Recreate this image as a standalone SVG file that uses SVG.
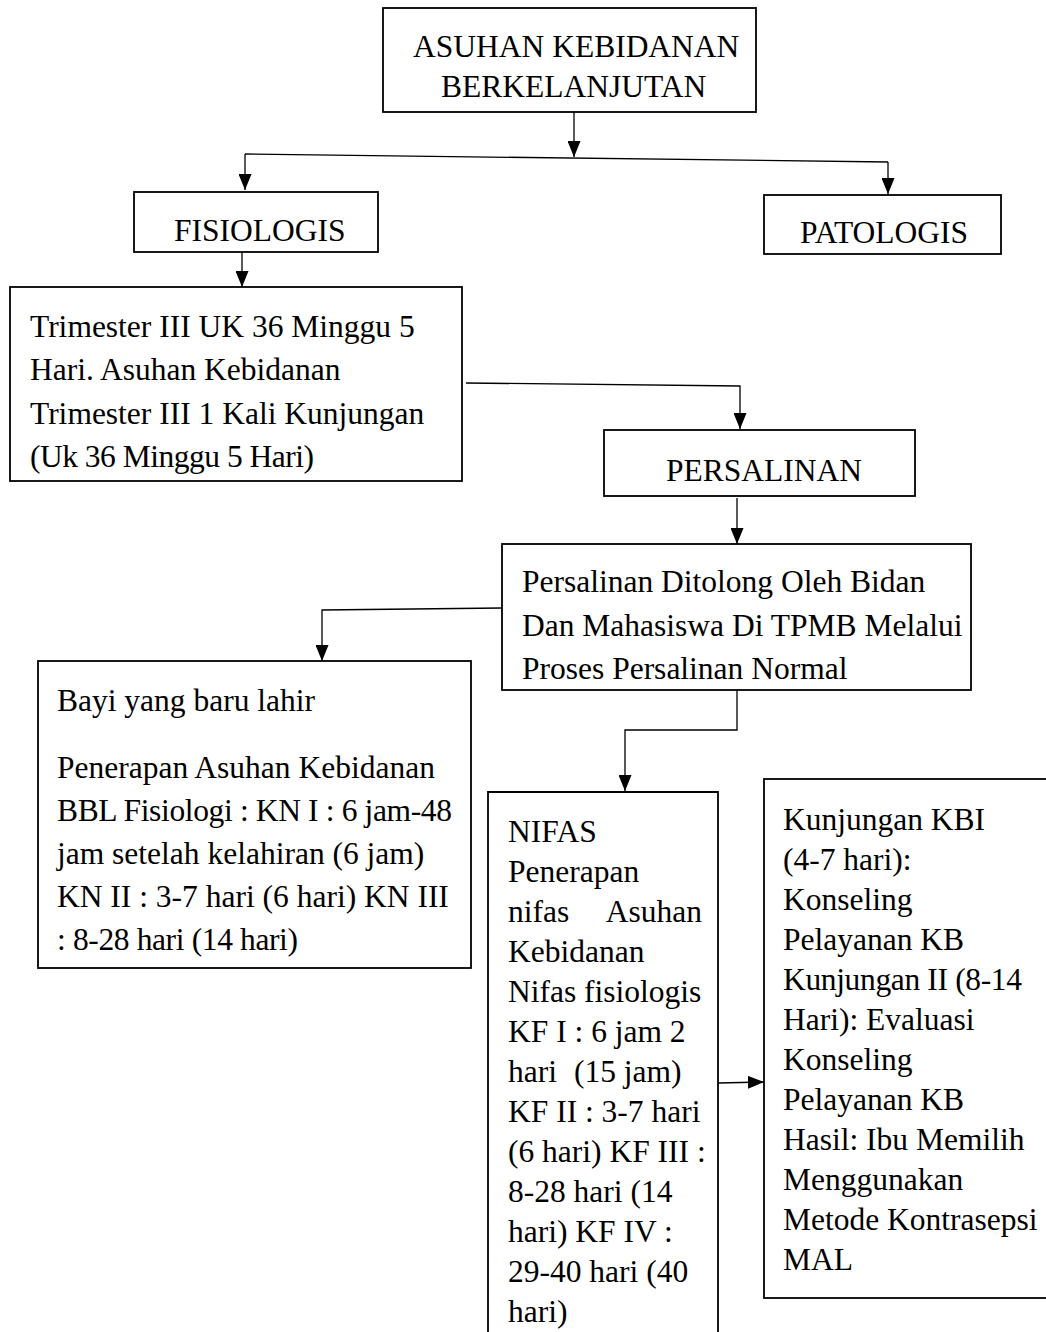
<svg xmlns="http://www.w3.org/2000/svg" width="1046" height="1332" viewBox="0 0 1046 1332">
<defs>
<style>
.box{fill:#fff;stroke:#000;stroke-width:1.8}
.t{font-family:"Liberation Serif","Times New Roman",serif;font-size:31.5px;fill:#000}
.c{fill:none;stroke:#000;stroke-width:1.3}
</style>
<marker id="ah" markerUnits="userSpaceOnUse" markerWidth="16" markerHeight="13" viewBox="0 0 16 13" refX="16" refY="6.5" orient="auto">
<path d="M0,0 L16,6.5 L0,13 z" fill="#000"/>
</marker>
</defs>
<rect width="1046" height="1332" fill="#fff"/>
<g id="n-asuhan">
<rect class="box" x="383" y="8" width="373" height="104"/>
<text class="t" x="413" y="57">ASUHAN KEBIDANAN</text>
<text class="t" x="441" y="97">BERKELANJUTAN</text>
</g>
<g id="n-fisiologis">
<rect class="box" x="134" y="192" width="244" height="60"/>
<text class="t" x="174" y="241">FISIOLOGIS</text>
</g>
<g id="n-patologis">
<rect class="box" x="764" y="195" width="237" height="59"/>
<text class="t" x="800" y="243">PATOLOGIS</text>
</g>
<g id="n-trimester">
<rect class="box" x="10" y="287" width="452" height="194"/>
<text class="t" x="30" y="337">Trimester III UK 36 Minggu 5</text>
<text class="t" x="30" y="380">Hari. Asuhan Kebidanan</text>
<text class="t" x="30" y="424">Trimester III 1 Kali Kunjungan</text>
<text class="t" x="30" y="467" textLength="284" lengthAdjust="spacing">(Uk 36 Minggu 5 Hari)</text>
</g>
<g id="n-persalinan">
<rect class="box" x="604" y="430" width="311" height="66"/>
<text class="t" x="666" y="481">PERSALINAN</text>
</g>
<g id="n-ditolong">
<rect class="box" x="502" y="544" width="469" height="146"/>
<text class="t" x="522" y="592">Persalinan Ditolong Oleh Bidan</text>
<text class="t" x="522" y="636">Dan Mahasiswa Di TPMB Melalui</text>
<text class="t" x="522" y="679">Proses Persalinan Normal</text>
</g>
<g id="n-bayi">
<rect class="box" x="38" y="661" width="433" height="307"/>
<text class="t" x="57" y="711">Bayi yang baru lahir</text>
<text class="t" x="57" y="778">Penerapan Asuhan Kebidanan</text>
<text class="t" x="57" y="821" textLength="395" lengthAdjust="spacing">BBL Fisiologi : KN I : 6 jam-48</text>
<text class="t" x="57" y="864">jam setelah kelahiran (6 jam)</text>
<text class="t" x="57" y="907">KN II : 3-7 hari (6 hari) KN III</text>
<text class="t" x="57" y="950" textLength="241" lengthAdjust="spacing">: 8-28 hari (14 hari)</text>
</g>
<g id="n-nifas">
<path class="box" d="M488,1333 L488,792 L718,792 L718,1333"/>
<text class="t" x="508" y="842">NIFAS</text>
<text class="t" x="508" y="882">Penerapan</text>
<text class="t" x="508" y="922">nifas</text>
<text class="t" x="702" y="922" text-anchor="end">Asuhan</text>
<text class="t" x="508" y="962">Kebidanan</text>
<text class="t" x="508" y="1002">Nifas fisiologis</text>
<text class="t" x="508" y="1042">KF I : 6 jam 2</text>
<text class="t" x="508" y="1082">hari</text>
<text class="t" x="574" y="1082">(15 jam)</text>
<text class="t" x="508" y="1122">KF II : 3-7 hari</text>
<text class="t" x="508" y="1162">(6 hari) KF III :</text>
<text class="t" x="508" y="1202">8-28 hari (14</text>
<text class="t" x="508" y="1242">hari) KF IV :</text>
<text class="t" x="508" y="1282">29-40 hari (40</text>
<text class="t" x="508" y="1322">hari)</text>
</g>
<g id="n-kb">
<rect class="box" x="764" y="779" width="290" height="519"/>
<text class="t" x="783" y="830">Kunjungan KBI</text>
<text class="t" x="783" y="870">(4-7 hari):</text>
<text class="t" x="783" y="910">Konseling</text>
<text class="t" x="783" y="950">Pelayanan KB</text>
<text class="t" x="783" y="990" textLength="239" lengthAdjust="spacing">Kunjungan II (8-14</text>
<text class="t" x="783" y="1030">Hari): Evaluasi</text>
<text class="t" x="783" y="1070">Konseling</text>
<text class="t" x="783" y="1110">Pelayanan KB</text>
<text class="t" x="783" y="1150">Hasil: Ibu Memilih</text>
<text class="t" x="783" y="1190">Menggunakan</text>
<text class="t" x="783" y="1230">Metode Kontrasepsi</text>
<text class="t" x="783" y="1270">MAL</text>
</g>
<g id="connectors">
<path class="c" d="M574,112 L574,157" marker-end="url(#ah)"/>
<path class="c" d="M245,154 L888,162"/>
<path class="c" d="M245,154 L245,190" marker-end="url(#ah)"/>
<path class="c" d="M888,162 L888,194" marker-end="url(#ah)"/>
<path class="c" d="M242,252 L242,287" marker-end="url(#ah)"/>
<path class="c" d="M466,383 L740,386 L740,429" marker-end="url(#ah)"/>
<path class="c" d="M737,498 L737,544" marker-end="url(#ah)"/>
<path class="c" d="M502,608 L322,610 L322,661" marker-end="url(#ah)"/>
<path class="c" d="M737,690 L737,730 L625,730 L625,791" marker-end="url(#ah)"/>
<path class="c" d="M718,1083 L764,1082" marker-end="url(#ah)"/>
</g>
</svg>
